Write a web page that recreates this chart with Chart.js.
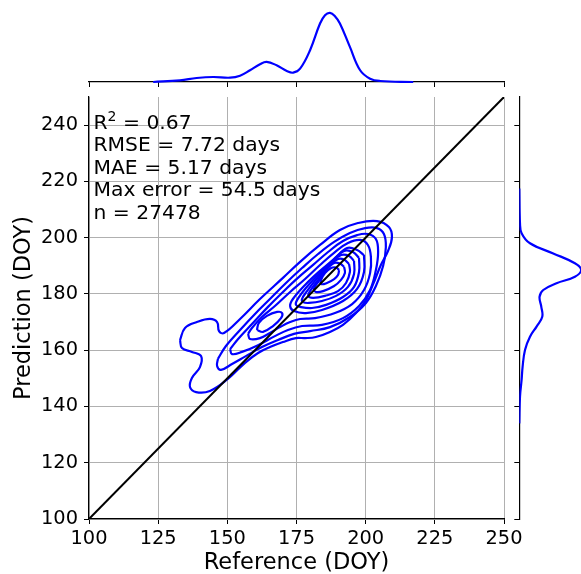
<!DOCTYPE html>
<html>
<head>
<meta charset="utf-8">
<script src="https://cdn.jsdelivr.net/npm/chart.js@4.4.1/dist/chart.umd.min.js"></script>
<style>
body { margin: 0; background: #fff; }
#wrap { position: relative; width: 581px; height: 574px; overflow: hidden; background: #fff; }
canvas { position: absolute; }
</style>
</head>
<body>
<div id="wrap">
  <canvas id="main" width="581" height="574" style="left:0;top:0"></canvas>
  <canvas id="topm" width="581" height="90" style="left:0;top:0"></canvas>
  <canvas id="rightm" width="76" height="574" style="left:505px;top:0"></canvas>
</div>
<script>
// axis ticks
var xTicks = [100, 125, 150, 175, 200, 225, 250];
var yTicks = [100, 120, 140, 160, 180, 200, 220, 240];

// stats text
var r2Text = ' = 0.67';
var statLines = ['RMSE = 7.72 days', 'MAE = 5.17 days', 'Max error = 54.5 days', 'n = 27478'];

// kde contours, [reference, prediction], outer to inner
var level1 = [[132.9,163.6],[134.7,167.9],[139.0,170.0],[143.7,171.1],[146.3,170.0],[147.0,166.8],[148.8,166.1],[154.6,171.1],[161.8,178.2],[170.1,185.7],[176.3,191.4],[183.5,197.4],[190.7,202.7],[197.2,205.2],[204.1,205.9],[208.4,203.8],[209.5,200.2],[208.1,195.3],[205.5,190.3],[202.7,183.5],[200.1,177.8],[196.5,173.2],[191.8,169.0],[187.1,166.5],[182.0,164.7],[178.1,164.3],[174.8,164.3],[170.1,162.9],[165.4,161.1],[161.1,159.0],[156.4,155.5],[150.2,149.8],[143.7,145.5],[138.7,145.1],[136.5,146.9],[137.2,150.1],[140.1,154.0],[140.5,157.9],[137.2,159.4],[133.6,160.8]];
var level2 = [[146.6,156.9],[149.5,161.5],[154.6,167.2],[160.0,172.9],[165.4,178.2],[171.2,183.9],[177.0,189.2],[182.8,194.2],[188.6,198.5],[194.3,201.7],[199.8,203.4],[204.1,203.4],[206.6,201.3],[207.3,196.7],[206.3,189.9],[203.7,182.8],[200.1,176.8],[194.3,171.8],[187.1,168.2],[179.9,166.8],[174.1,165.8],[168.3,163.6],[162.5,161.1],[156.7,157.9],[151.7,155.1],[147.7,153.0],[146.3,154.4]];
var level3 = [[151.0,160.4],[153.9,164.0],[158.9,169.3],[164.7,175.4],[170.1,180.7],[175.5,185.7],[181.0,190.3],[186.4,194.9],[191.8,198.8],[196.9,200.9],[200.8,201.3],[203.7,199.5],[204.5,194.9],[203.7,188.5],[201.6,181.4],[197.6,175.7],[191.8,171.4],[184.2,169.0],[177.0,168.6],[171.9,167.2],[167.2,165.0],[161.1,161.8],[155.3,159.4],[151.7,158.6]];
var level4 = [[157.5,165.8],[158.9,167.9],[162.5,171.8],[167.2,175.7],[172.7,180.7],[178.1,185.3],[183.5,190.3],[188.9,194.9],[193.6,198.1],[198.0,199.2],[200.8,197.4],[201.9,193.1],[201.6,187.4],[199.4,181.4],[195.1,176.4],[188.9,173.2],[181.7,171.4],[176.3,171.1],[172.7,170.0],[169.0,168.2],[165.4,166.1],[161.8,164.3],[158.2,164.0]];
var level5a = [[160.7,167.2],[161.4,169.7],[164.3,172.2],[168.0,173.6],[169.8,173.2],[169.4,171.4],[166.5,168.6],[162.9,166.5]];
var level5 = [[199.4,193.8],[196.9,195.6],[193.3,196.3],[188.6,192.4],[183.5,188.2],[178.1,183.2],[173.7,178.2],[172.7,175.7],[174.1,173.9],[178.4,173.2],[184.2,174.3],[191.8,177.5],[196.9,181.8],[199.4,187.8]];
var level6 = [[197.6,192.8],[195.4,194.9],[192.2,195.3],[187.8,191.7],[183.1,187.1],[178.4,182.1],[175.2,177.8],[174.8,176.1],[176.3,175.4],[180.6,175.0],[185.7,176.1],[191.8,178.9],[195.8,182.5],[197.6,187.8]];
var level7 = [[195.8,191.7],[194.0,193.5],[191.1,193.8],[187.1,190.6],[182.8,186.0],[178.8,181.0],[177.0,178.2],[177.4,177.1],[179.5,176.8],[184.2,177.5],[189.3,179.3],[193.6,182.5],[195.8,187.1]];
var level8 = [[194.0,190.6],[192.2,192.2],[190.0,192.4],[186.4,189.6],[182.8,185.0],[179.9,181.0],[179.2,179.3],[181.0,178.6],[185.3,179.3],[190.0,181.0],[192.9,183.9],[194.3,187.8]];
var level9 = [[192.2,189.6],[190.7,190.8],[188.6,191.0],[185.7,188.5],[182.8,184.2],[181.3,181.8],[182.0,180.7],[184.6,181.0],[188.6,182.8],[191.1,185.0],[192.5,187.4]];
var level10 = [[190.4,188.5],[189.3,189.4],[187.5,189.2],[185.3,187.4],[183.9,185.0],[183.9,183.5],[186.0,183.9],[188.6,185.3],[190.0,186.7]];

// marginal densities
var topX =       [123.2, 132.9, 138.9, 144.9, 151.0, 154.6, 158.2, 161.8, 164.2, 167.8, 171.5, 173.8, 176.3, 179.9, 183.5, 185.3, 187.1, 188.9, 190.7, 194.3, 198.0, 201.6, 205.2, 217.2];
var topDensity = [0, 0.00085, 0.002, 0.0025, 0.00215, 0.00315, 0.00585, 0.00885, 0.01, 0.00835, 0.0055, 0.00465, 0.00665, 0.01585, 0.02915, 0.0333, 0.0345, 0.0328, 0.02915, 0.0175, 0.00585, 0.00165, 0.0005, 0];
var rightY =       [217.5, 205.1, 201.6, 198.0, 194.4, 190.9, 188.5, 186.1, 183.8, 181.4, 179.0, 175.5, 171.9, 168.4, 164.8, 160.1, 154.1, 149.4, 143.5, 134.0];
var rightDensity = [0, 0.00035, 0.00115, 0.00535, 0.017, 0.02785, 0.031, 0.02785, 0.01865, 0.012, 0.01015, 0.011, 0.0115, 0.00865, 0.00535, 0.00285, 0.00165, 0.00115, 0.00035, 0];

var contours = [level1, level2, level3, level4, level5a, level5, level6, level7, level8, level9, level10];

Chart.defaults.font.family = 'DejaVu Sans';
Chart.defaults.color = '#000';

function fixTicks(vals) {
    return function (scale) { scale.ticks = vals.map(v => ({ value: v })); };
}

function closed(c) {
    var pts = c.map(p => ({ x: p[0], y: p[1] }));
    pts.push({ x: c[0][0], y: c[0][1] });
    return pts;
}

var datasets = [{
    data: [{ x: 100, y: 100 }, { x: 250, y: 250 }],
    showLine: true, borderColor: '#000', borderWidth: 2, pointRadius: 0
}];
contours.forEach(c => {
    datasets.push({ data: closed(c), showLine: true, borderColor: '#0000ff', borderWidth: 2.2, pointRadius: 0, tension: 0.4 });
});

var statsPlugin = {
    id: 'stats',
    afterDraw(chart) {
        var ctx = chart.ctx;
        var x = chart.chartArea.left + 4.5;
        var y = chart.chartArea.top + 31.5;
        ctx.save();
        ctx.fillStyle = '#000';
        ctx.textBaseline = 'alphabetic';
        ctx.font = '20.3px "DejaVu Sans"';
        ctx.fillText('R', x, y);
        var w = ctx.measureText('R').width;
        ctx.font = '14px "DejaVu Sans"';
        ctx.fillText('2', x + w, y - 8);
        var w2 = ctx.measureText('2').width;
        ctx.font = '20.3px "DejaVu Sans"';
        ctx.fillText(r2Text, x + w + w2, y);
        statLines.forEach((t, i) => ctx.fillText(t, x, y + 22.5 * (i + 1)));
        ctx.restore();
    }
};

new Chart(document.getElementById('main'), {
    type: 'scatter',
    data: { datasets: datasets },
    options: {
        responsive: false, animation: false, events: [],
        layout: { padding: { left: 0, right: 77, top: 97, bottom: 0 } },
        plugins: { legend: { display: false }, tooltip: { enabled: false } },
        scales: {
            x: {
                type: 'linear', min: 100, max: 250,
                afterBuildTicks: fixTicks(xTicks),
                afterFit: s => { s.height = 55; },
                grid: { color: '#b0b0b0', lineWidth: 1, tickColor: '#000', tickLength: 5 },
                border: { display: true, color: '#000', width: 1.2 },
                ticks: { font: { size: 19.4 }, padding: 3, maxRotation: 0, autoSkip: false, color: '#000' },
                title: { display: true, text: 'Reference (DOY)', font: { size: 22.5, lineHeight: 1 }, padding: 0, color: '#000' }
            },
            y: {
                type: 'linear', min: 100, max: 250,
                afterBuildTicks: fixTicks(yTicks),
                afterFit: s => { s.width = 89; },
                grid: { color: '#b0b0b0', lineWidth: 1, tickColor: '#000', tickLength: 5 },
                border: { display: true, color: '#000', width: 1.2 },
                ticks: { font: { size: 19.4 }, padding: 6, autoSkip: false, color: '#000' },
                title: { display: true, text: 'Prediction (DOY)', font: { size: 22.5, lineHeight: 1.2 }, padding: { top: 11, bottom: 0 }, color: '#000' }
            }
        }
    },
    plugins: [statsPlugin]
});

new Chart(document.getElementById('topm'), {
    type: 'scatter',
    data: { datasets: [{
        data: topX.map((x, i) => ({ x: x, y: topDensity[i] })),
        showLine: true, borderColor: '#0000ff', borderWidth: 2.2, pointRadius: 0, tension: 0.4, clip: false
    }] },
    options: {
        responsive: false, animation: false, events: [],
        layout: { padding: { left: 89, right: 77, top: 9, bottom: 0 } },
        plugins: { legend: { display: false }, tooltip: { enabled: false } },
        scales: {
            x: {
                type: 'linear', min: 100, max: 250,
                afterBuildTicks: fixTicks(xTicks),
                afterFit: s => { s.height = 8; },
                grid: { drawOnChartArea: false, tickColor: '#000', tickLength: 5 },
                border: { display: true, color: '#000', width: 1.2 },
                ticks: { display: false }
            },
            y: { display: false, min: 0, max: 0.0364 }
        }
    }
});

new Chart(document.getElementById('rightm'), {
    type: 'scatter',
    data: { datasets: [{
        data: rightY.map((y, i) => ({ x: rightDensity[i], y: y })),
        showLine: true, borderColor: '#0000ff', borderWidth: 2.2, pointRadius: 0, tension: 0.4
    }] },
    options: {
        responsive: false, animation: false, events: [],
        layout: { padding: { left: 0, right: 0, top: 97, bottom: 55 } },
        plugins: { legend: { display: false }, tooltip: { enabled: false } },
        scales: {
            x: { display: false, min: 0, max: 0.0309 },
            y: {
                type: 'linear', min: 100, max: 250,
                afterBuildTicks: fixTicks(yTicks),
                afterFit: s => { s.width = 14.3; },
                grid: { drawOnChartArea: false, tickColor: '#000', tickLength: 5 },
                border: { display: true, color: '#000', width: 1.2 },
                ticks: { display: false }
            }
        }
    }
});
</script>
</body>
</html>
